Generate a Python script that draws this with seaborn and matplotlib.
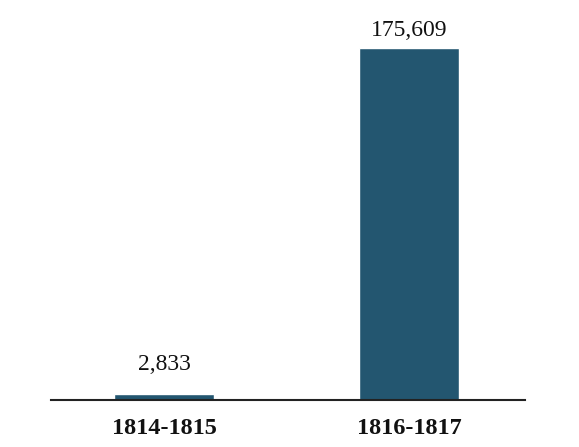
import matplotlib
matplotlib.use("Agg")
import matplotlib.pyplot as plt
import seaborn as sns
import pandas as pd

categories = ["1814-1815", "1816-1817"]
values = [2833, 175609]
label_offsets_pt = [14, 5]

sns.set_theme(style="white")
plt.rcParams['font.family'] = ['Liberation Serif', 'DejaVu Serif']

df = pd.DataFrame({"period": categories, "value": values})

fig = plt.figure(figsize=(5.79, 4.47), dpi=100)
ax = fig.add_axes([51/579, 1-400/447, 474/579, 380/447])

sns.barplot(data=df, x="period", y="value", color="#235670", saturation=1,
            width=0.41, ax=ax)

for i, (v, off) in enumerate(zip(values, label_offsets_pt)):
    ax.annotate(f"{v:,}", (i, v), xytext=(0, off), textcoords="offset points",
                ha="center", va="bottom", fontsize=17, color="#111111")

ax.set_xlim(-0.461, 1.473)
ax.set_ylim(0, 175609 * 380 / 352)
ax.set_xlabel("")
ax.set_ylabel("")
ax.set_yticks([])
for s in ["top", "right", "left"]:
    ax.spines[s].set_visible(False)
ax.spines["bottom"].set_color("#222222")
ax.spines["bottom"].set_linewidth(1.5)
ax.tick_params(axis="x", length=0, pad=13, labelsize=17.5, labelcolor="#111111")
for t in ax.get_xticklabels():
    t.set_fontweight("bold")

fig.savefig("out.png", dpi=100)
